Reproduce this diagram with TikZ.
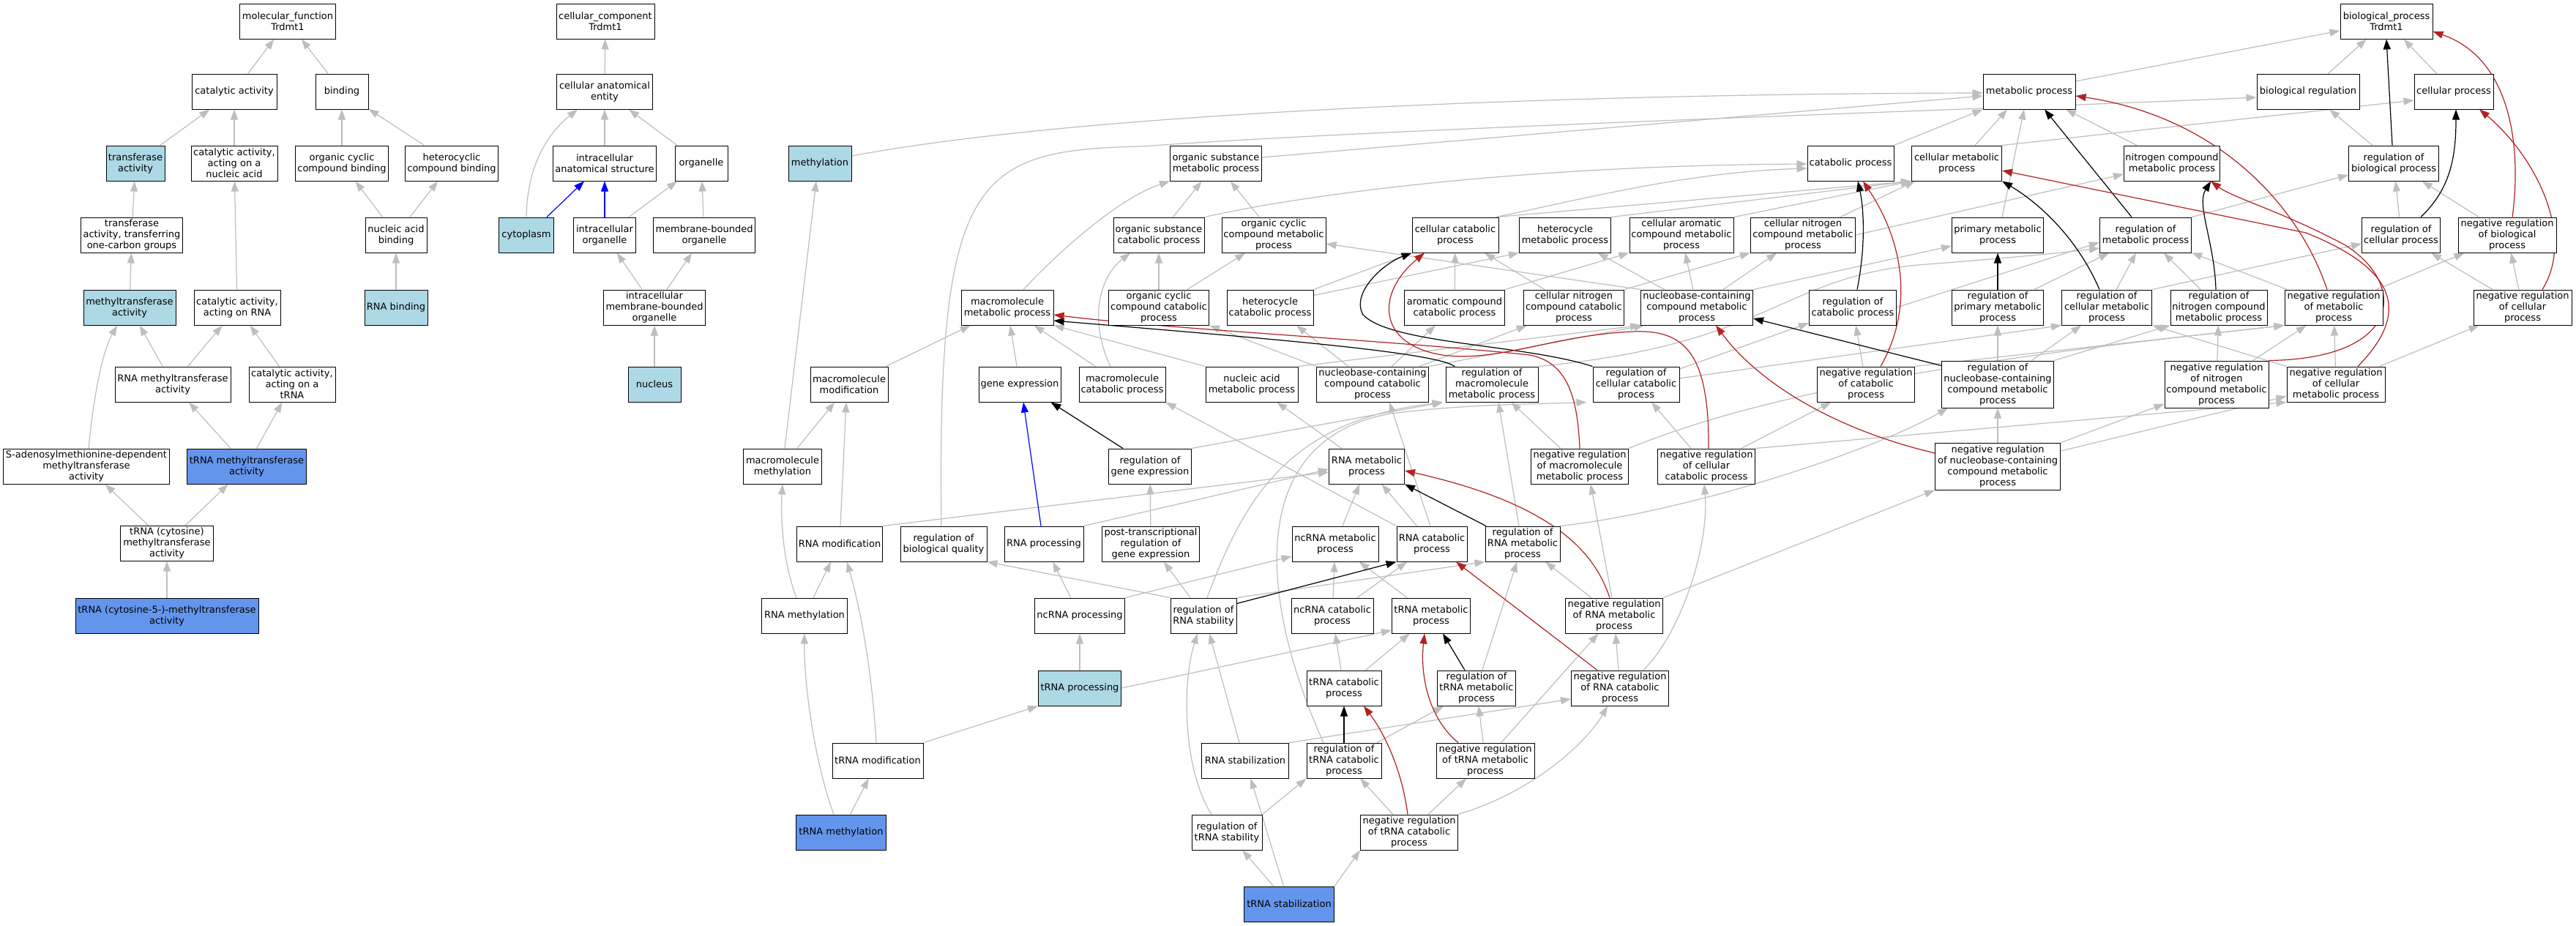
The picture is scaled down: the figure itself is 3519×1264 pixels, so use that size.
\documentclass[tikz,border=0pt]{standalone}
\usepackage{fontspec}
\setmainfont{DejaVu Sans}
\usetikzlibrary{arrows.meta}
\definecolor{lightblue}{HTML}{ADD8E6}
\definecolor{cornflower}{HTML}{6495ED}
\definecolor{edgegray}{HTML}{BEBEBE}
\definecolor{firebrick}{HTML}{B22222}
\pgfdeclarelayer{bg}
\pgfsetlayers{bg,main}
\tikzset{
  box/.style={draw=black,line width=1pt,fill=white,align=center,inner xsep=2pt,inner ysep=2pt,minimum height=48pt,font=\fontsize{13}{15}\selectfont},
  lb/.style={box,fill=lightblue},
  cb/.style={box,fill=cornflower},
  tall/.style={minimum height=64pt},
  ge/.style={color=edgegray,line width=1.2pt,-{Triangle[length=14pt,width=10pt]}},
  ke/.style={ge,color=black},
  re/.style={ge,color=firebrick},
  ue/.style={ge,color=blue},
}
\begin{document}
\begin{tikzpicture}[x=1pt,y=-1pt]
\useasboundingbox (0,0) rectangle (3519,1264);
% ---------------- molecular function
\node[box,minimum width=131pt] (mf) at (393,29) {molecular\_function\\Trdmt1};
\node[box,minimum width=116pt] (ca) at (320,125) {catalytic activity};
\node[box,minimum width=72pt] (bind) at (467,125) {binding};
\node[lb,minimum width=80pt] (ta) at (185,223) {transferase\\activity};
\node[box,minimum width=118pt] (cana) at (320,223) {catalytic activity,\\acting on a\\nucleic acid};
\node[box,minimum width=127pt] (ocb) at (467,223) {organic cyclic\\compound binding};
\node[box,minimum width=127pt] (hcb) at (617,223) {heterocyclic\\compound binding};
\node[box,minimum width=139pt] (taoc) at (180,321) {transferase\\activity, transferring\\one-carbon groups};
\node[box,minimum width=84pt] (nab) at (541,321) {nucleic acid\\binding};
\node[lb,minimum width=126pt] (mta) at (177,420) {methyltransferase\\activity};
\node[box,minimum width=118pt] (carna) at (324,420) {catalytic activity,\\acting on RNA};
\node[lb,minimum width=86pt] (rnab) at (541,420) {RNA binding};
\node[box,minimum width=158pt] (rmta) at (236,525) {RNA methyltransferase\\activity};
\node[box,minimum width=118pt] (catrna) at (399,525) {catalytic activity,\\acting on a\\tRNA};
\node[box,minimum width=227pt] (sam) at (118,637) {S-adenosylmethionine-dependent\\methyltransferase\\activity};
\node[cb,minimum width=163pt] (tmta) at (337,637) {tRNA methyltransferase\\activity};
\node[box,minimum width=127pt] (tcmta) at (228,742) {tRNA (cytosine)\\methyltransferase\\activity};
\node[cb,minimum width=250pt] (tc5) at (228,841) {tRNA (cytosine-5-)-methyltransferase\\activity};
% ---------------- cellular component
\node[box,minimum width=134pt] (cc) at (827,29) {cellular\_component\\Trdmt1};
\node[box,minimum width=131pt] (cae) at (826,125) {cellular anatomical\\entity};
\node[box,minimum width=141pt] (ias) at (826,223) {intracellular\\anatomical structure};
\node[box,minimum width=72pt] (org) at (958,223) {organelle};
\node[lb,minimum width=75pt] (cyto) at (719,321) {cytoplasm};
\node[box,minimum width=85pt] (io) at (826,321) {intracellular\\organelle};
\node[box,minimum width=139pt] (mbo) at (962,321) {membrane-bounded\\organelle};
\node[box,minimum width=139pt] (imbo) at (894,420) {intracellular\\membrane-bounded\\organelle};
\node[lb,minimum width=72pt] (nuc) at (894,525) {nucleus};
% ---------------- biological process
\node[box,minimum width=126pt] (bp) at (3260,29) {biological\_process\\Trdmt1};
\node[box,minimum width=126pt] (mp) at (2772,125) {metabolic process};
\node[box,minimum width=140pt] (breg) at (3153,125) {biological regulation};
\node[box,minimum width=108pt] (cp) at (3352,125) {cellular process};
\node[lb,minimum width=86pt] (meth) at (1120,223) {methylation};
\node[box,minimum width=125pt] (osmp) at (1661,223) {organic substance\\metabolic process};
\node[box,minimum width=118pt] (catp) at (2528,223) {catabolic process};
\node[box,minimum width=123pt] (cmp) at (2673,223) {cellular metabolic\\process};
\node[box,minimum width=131pt] (ncmp) at (2967,223) {nitrogen compound\\metabolic process};
\node[box,minimum width=123pt] (rbp) at (3270,223) {regulation of\\biological process};
\node[box,minimum width=124pt] (oscp) at (1583,321) {organic substance\\catabolic process};
\node[box,minimum width=142pt] (occmp) at (1740,321) {organic cyclic\\compound metabolic\\process};
\node[box,minimum width=118pt] (ccp) at (1988,321) {cellular catabolic\\process};
\node[box,minimum width=125pt] (hmp) at (2138,321) {heterocycle\\metabolic process};
\node[box,minimum width=142pt] (cacmp) at (2297,321) {cellular aromatic\\compound metabolic\\process};
\node[box,minimum width=143pt] (cncmp) at (2463,321) {cellular nitrogen\\compound metabolic\\process};
\node[box,minimum width=125pt] (pmp) at (2729,321) {primary metabolic\\process};
\node[box,minimum width=125pt] (rmp) at (2931,321) {regulation of\\metabolic process};
\node[box,minimum width=107pt] (rcp) at (3280,321) {regulation of\\cellular process};
\node[box,minimum width=134pt] (nrbp) at (3425,321) {negative regulation\\of biological\\process};
\node[box,minimum width=126pt] (mmp) at (1376,420) {macromolecule\\metabolic process};
\node[box,minimum width=137pt] (occp) at (1583,420) {organic cyclic\\compound catabolic\\process};
\node[box,minimum width=118pt] (hcp) at (1735,420) {heterocycle\\catabolic process};
\node[box,minimum width=137pt] (accp) at (1987,420) {aromatic compound\\catabolic process};
\node[box,minimum width=137pt] (cnccp) at (2150,420) {cellular nitrogen\\compound catabolic\\process};
\node[box,minimum width=153pt] (nbcmp) at (2318,420) {nucleobase-containing\\compound metabolic\\process};
\node[box,minimum width=119pt] (rcatp) at (2531,420) {regulation of\\catabolic process};
\node[box,minimum width=125pt] (rpmp) at (2729,420) {regulation of\\primary metabolic\\process};
\node[box,minimum width=123pt] (rcmp) at (2878,420) {regulation of\\cellular metabolic\\process};
\node[box,minimum width=132pt] (rncmp) at (3031,420) {regulation of\\nitrogen compound\\metabolic process};
\node[box,minimum width=134pt] (nrmp) at (3188,420) {negative regulation\\of metabolic\\process};
\node[box,minimum width=134pt] (nrcp) at (3446,420) {negative regulation\\of cellular\\process};
\node[box,minimum width=106pt] (mmod) at (1160,525) {macromolecule\\modification};
\node[box,minimum width=112pt] (gex) at (1393,525) {gene expression};
\node[box,minimum width=118pt] (mcp) at (1533,525) {macromolecule\\catabolic process};
\node[box,minimum width=126pt] (namp) at (1710,525) {nucleic acid\\metabolic process};
\node[box,minimum width=153pt] (nbccp) at (1875,525) {nucleobase-containing\\compound catabolic\\process};
\node[box,minimum width=126pt] (rmmp) at (2038,525) {regulation of\\macromolecule\\metabolic process};
\node[box,minimum width=118pt] (rccp) at (2235,525) {regulation of\\cellular catabolic\\process};
\node[box,minimum width=133pt] (nrcatp) at (2549,525) {negative regulation\\of catabolic\\process};
\node[box,tall,minimum width=153pt] (rnbcmp) at (2729,525) {regulation of\\nucleobase-containing\\compound metabolic\\process};
\node[box,tall,minimum width=142pt] (nrncmp) at (3028,525) {negative regulation\\of nitrogen\\compound metabolic\\process};
\node[box,minimum width=134pt] (nrcmp) at (3191,525) {negative regulation\\of cellular\\metabolic process};
\node[box,minimum width=107pt] (mmeth) at (1069,637) {macromolecule\\methylation};
\node[box,minimum width=113pt] (rgex) at (1571,637) {regulation of\\gene expression};
\node[box,minimum width=103pt] (rnamp) at (1867,637) {RNA metabolic\\process};
\node[box,minimum width=133pt] (nrmmp) at (2158,637) {negative regulation\\of macromolecule\\metabolic process};
\node[box,minimum width=133pt] (nrccp) at (2331,637) {negative regulation\\of cellular\\catabolic process};
\node[box,tall,minimum width=171pt] (nrnbcmp) at (2729,637) {negative regulation\\of nucleobase-containing\\compound metabolic\\process};
\node[box,minimum width=117pt] (rmod) at (1147,743) {RNA modification};
\node[box,minimum width=118pt] (rbq) at (1289,743) {regulation of\\biological quality};
\node[box,minimum width=108pt] (rproc) at (1426,743) {RNA processing};
\node[box,minimum width=133pt] (ptrgex) at (1572,743) {post-transcriptional\\regulation of\\gene expression};
\node[box,minimum width=118pt] (ncmet) at (1824,743) {ncRNA metabolic\\process};
\node[box,minimum width=96pt] (rcat) at (1956,743) {RNA catabolic\\process};
\node[box,minimum width=102pt] (rrmp) at (2080,743) {regulation of\\RNA metabolic\\process};
\node[box,minimum width=117pt] (rmeth) at (1099,841) {RNA methylation};
\node[box,minimum width=123pt] (ncproc) at (1475,841) {ncRNA processing};
\node[box,minimum width=90pt] (rrs) at (1644,841) {regulation of\\RNA stability};
\node[box,minimum width=112pt] (nccat) at (1820,841) {ncRNA catabolic\\process};
\node[box,minimum width=107pt] (tmet) at (1955,841) {tRNA metabolic\\process};
\node[box,minimum width=133pt] (nrrmp) at (2205,841) {negative regulation\\of RNA metabolic\\process};
\node[lb,minimum width=113pt] (tproc) at (1475,940) {tRNA processing};
\node[box,minimum width=102pt] (tcat) at (1836,940) {tRNA catabolic\\process};
\node[box,minimum width=107pt] (rtmp) at (2017,940) {regulation of\\tRNA metabolic\\process};
\node[box,minimum width=133pt] (nrrcp) at (2213,940) {negative regulation\\of RNA catabolic\\process};
\node[box,minimum width=124pt] (tmod) at (1199,1039) {tRNA modification};
\node[box,minimum width=119pt] (rstab) at (1701,1039) {RNA stabilization};
\node[box,minimum width=102pt] (rtcp) at (1836,1039) {regulation of\\tRNA catabolic\\process};
\node[box,minimum width=134pt] (nrtmp) at (2029,1039) {negative regulation\\of tRNA metabolic\\process};
\node[cb,minimum width=123pt] (tmeth) at (1149,1137) {tRNA methylation};
\node[box,minimum width=96pt] (rts) at (1676,1137) {regulation of\\tRNA stability};
\node[box,minimum width=133pt] (nrtcp) at (1925,1137) {negative regulation\\of tRNA catabolic\\process};
\node[cb,minimum width=123pt] (tstab) at (1761,1235) {tRNA stabilization};

\begin{pgfonlayer}{bg}
\fill[white] (0,0) rectangle (3519,1264);
% ---- MF edges
\draw[ge] (ca) -- (mf);
\draw[ge] (bind) -- (mf);
\draw[ge] (ta) -- (ca);
\draw[ge] (cana) -- (ca);
\draw[ge] (ocb) -- (bind);
\draw[ge] (hcb) -- (bind);
\draw[ge] (taoc) -- (ta);
\draw[ge] (carna) -- (cana);
\draw[ge] (nab) -- (ocb);
\draw[ge] (nab) -- (hcb);
\draw[ge] (mta) -- (taoc);
\draw[ge] (rnab) -- (nab);
\draw[ge] (rmta) -- (mta);
\draw[ge] (rmta) -- (carna);
\draw[ge] (catrna) -- (carna);
\draw[ge] ([xshift=3pt]sam.north) .. controls (128,540) and (140,480) .. ([xshift=-17pt]mta.south);
\draw[ge] (tmta) -- (rmta);
\draw[ge] (tmta) -- (catrna);
\draw[ge] (tcmta) -- (sam);
\draw[ge] (tcmta) -- (tmta);
\draw[ge] (tc5) -- (tcmta);
% ---- CC edges
\draw[ge] (cae) -- (cc);
\draw[ge] (ias) -- (cae);
\draw[ge] (org) -- (cae);
\draw[ge] (cyto.north) .. controls (720,230) and (745,185) .. ([xshift=-37pt]cae.south);
\draw[ue] ([xshift=28pt]cyto.north) -- ([xshift=-28pt]ias.south);
\draw[ue] (io) -- (ias);
\draw[ge] (io) -- (org);
\draw[ge] (mbo) -- (org);
\draw[ge] (imbo) -- (io);
\draw[ge] (imbo) -- (mbo);
\draw[ge] (nuc) -- (imbo);
% ---- BP gray edges
\draw[ge] ([yshift=14pt]mp.east) -- ([yshift=-13pt]bp.west);
\draw[ge] (breg) -- (bp);
\draw[ge] (cp) -- (bp);
\draw[ge] ([yshift=10pt]meth.east) .. controls (1500,150) and (2200,128) .. ([yshift=-2pt]mp.west);
\draw[ge] ([yshift=8pt]osmp.east) -- ([yshift=-6pt]mp.west);
\draw[ge] (catp.north east) -- (mp.south west);
\draw[ge] ([xshift=25pt]cmp.north) -- ([xshift=-30pt]mp.south);
\draw[ge] (cmp.north east) -- ([yshift=-12pt]cp.west);
\draw[ge] ([xshift=-48pt]ncmp.north) -- ([xshift=50pt]mp.south);
\draw[ge] (rbp) -- (breg);
\draw[ge] ([xshift=-3pt]rbq.north) .. controls (1280,240) and (1330,205) .. (1560,200) .. controls (1900,175) and (2700,150) .. ([yshift=-8pt]breg.west);
\draw[ge] (oscp) -- (osmp);
\draw[ge] (oscp.north east) .. controls (1800,262) and (2100,226) .. ([yshift=-1pt]catp.west);
\draw[ge] (occmp) -- (osmp);
\draw[ge] ([xshift=-4pt]ccp.north east) .. controls (2150,275) and (2300,235) .. ([yshift=-7pt]catp.west);
\draw[ge] ([xshift=-4pt]ccp.north east) -- (cmp.south west);
\draw[ge] (hmp.north east) -- (cmp.south west);
\draw[ge] (cacmp.north east) -- (cmp.south west);
\draw[ge] (cncmp) -- ([xshift=5pt]cmp.south west);
\draw[ge] (cncmp.east) -- ([yshift=-15pt]ncmp.west);
\draw[ge] ([xshift=6pt]pmp.north) -- ([xshift=-7pt]mp.south);
\draw[ge] (rmp.north east) -- ([yshift=-16pt]rbp.west);
\draw[ge] (rcp) -- (rbp);
\draw[ge] (nrbp) -- (rbp);
\draw[ge] ([xshift=22pt]mmp.north) .. controls (1450,340) and (1530,270) .. (osmp.south west);
\draw[ge] (occp) -- (oscp);
\draw[ge] (occp) -- (occmp);
\draw[ge] ([yshift=-8pt]hcp.north east) -- (hmp.south west);
\draw[ge] (hcp.north east) -- (ccp.south west);
\draw[ge] (accp) -- (ccp);
\draw[ge] (accp.north east) -- (cacmp.south west);
\draw[ge] (cnccp) -- (ccp);
\draw[ge] (cnccp.north east) -- (cncmp.south west);
\draw[ge] (nbcmp) -- (hmp);
\draw[ge] (nbcmp) -- (cacmp);
\draw[ge] (nbcmp) -- (cncmp);
\draw[ge] (nbcmp.north east) -- ([yshift=-15pt]pmp.west);
\draw[ge] (nbcmp.north west) -- ([yshift=-12pt]occmp.east);
\draw[ge] (rcatp.east) -- ([yshift=-10pt]rmp.west);
\draw[ge] (rpmp) -- (rmp);
\draw[ge] (rcmp) -- (rmp);
\draw[ge] (rcmp.north east) -- ([yshift=-12pt]rcp.west);
\draw[ge] (rncmp) -- (rmp);
\draw[ge] (nrmp) -- (rmp);
\draw[ge] (nrmp) -- (nrbp);
\draw[ge] (nrcp) -- (rcp);
\draw[ge] (nrcp) -- (nrbp);
\draw[ge] (mmod) -- (mmp);
\draw[ge] (gex) -- (mmp);
\draw[ge] ([xshift=-16pt]mcp.north) .. controls (1488,440) and (1500,380) .. ([xshift=-39pt]oscp.south);
\draw[ge] (mcp) -- (mmp);
\draw[ge] (namp.north west) -- (mmp.south east);
\draw[ge] (namp.north east) -- (nbcmp.south west);
\draw[ge] (nbccp.north west) -- (occp.south east);
\draw[ge] ([xshift=-33pt]nbccp.north) -- ([xshift=36pt]hcp.south);
\draw[ge] (nbccp) -- (accp);
\draw[ge] (nbccp) -- (cnccp);
\draw[ge] (nbccp.north east) -- ([xshift=5pt]nbcmp.south west);
\draw[ge] (rmmp.north east) .. controls (2420,470) and (2430,380) .. (2620,362) .. controls (2750,352) and (2820,345) .. ([yshift=-18pt]rmp.west);
\draw[ge] (rccp) -- (rcatp);
\draw[ge] (rccp) -- (rcmp.south west);
\draw[ge] (nrcatp) -- (rcatp);
\draw[ge] (nrcatp.north east) -- (nrmp.south west);
\draw[ge] (rnbcmp) -- (rpmp);
\draw[ge] (rnbcmp) -- (rcmp);
\draw[ge] (rnbcmp.north east) -- (rncmp.south west);
\draw[ge] (nrncmp) -- (rncmp);
\draw[ge] (nrncmp) -- (nrmp);
\draw[ge] (nrcmp.north west) -- (rcmp.south east);
\draw[ge] (nrcmp) -- (nrmp);
\draw[ge] (nrcmp) -- (nrcp);
\draw[ge] ([xshift=3pt]mmeth.north) -- ([xshift=-5pt]meth.south);
\draw[ge] (mmeth) -- (mmod);
\draw[ge] (rgex.north east) -- ([xshift=-3pt]rmmp.south west);
\draw[ge] (rnamp) -- (namp);
\draw[ge] (nrmmp) -- (rmmp);
\draw[ge] (nrmmp.north east) .. controls (2450,520) and (2800,480) .. (nrmp.south west);
\draw[ge] (nrccp) -- (rccp);
\draw[ge] (nrccp) -- (nrcatp);
\draw[ge] (nrccp.north east) -- (nrcmp.south west);
\draw[ge] (nrnbcmp) -- (rnbcmp);
\draw[ge] (nrnbcmp) -- (nrncmp);
\draw[ge] (nrnbcmp) -- (nrcmp);
\draw[ge] ([xshift=1pt]rmod.north) -- ([xshift=-4pt]mmod.south);
\draw[ge] (rmod.north east) -- ([yshift=-8pt]rnamp.west);
\draw[ge] (rproc.north east) -- ([yshift=-4pt]rnamp.west);
\draw[ge] (ptrgex) -- (rgex);
\draw[ge] (ncmet) -- (rnamp);
\draw[ge] (rcat) -- (rnamp);
\draw[ge] (rcat.north west) -- (mcp.south east);
\draw[ge] ([xshift=-2pt]rcat.north) -- ([xshift=23pt]nbccp.south);
\draw[ge] (rrmp.north east) .. controls (2300,700) and (2550,620) .. ([xshift=-68pt]rnbcmp.south);
\draw[ge] ([xshift=-5pt]rrmp.north) -- ([xshift=9pt]rmmp.south);
\draw[ge] ([xshift=-11pt]rmeth.north) .. controls (1070,770) and (1066,710) .. (mmeth.south);
\draw[ge] (rmeth) -- (rmod);
\draw[ge] (ncproc) -- (rproc);
\draw[ge] (ncproc.north east) -- ([yshift=-17pt]ncmet.west);
\draw[ge] (rrs.north west) -- (rbq.south east);
\draw[ge] (rrs) -- (ptrgex);
\draw[ge] (rrs.north east) -- (rrmp.south west);
\draw[ge] ([xshift=5pt]rrs.north) .. controls (1700,680) and (1760,575) .. ([xshift=-4pt]rmmp.south west);
\draw[ge] (nccat) -- (ncmet);
\draw[ge] (nccat) -- (rcat);
\draw[ge] (tmet) -- (ncmet);
\draw[ge] (nrrmp) -- (rrmp);
\draw[ge] ([xshift=-3pt]nrrmp.north) -- ([xshift=15pt]nrmmp.south);
\draw[ge] (nrrmp.north east) -- (nrnbcmp.south west);
\draw[ge] (tproc) -- (ncproc);
\draw[ge] (tproc.east) -- ([yshift=-20pt]tmet.west);
\draw[ge] (tcat) -- (nccat);
\draw[ge] (tcat) -- (tmet);
\draw[ge] (rtmp) -- (rrmp);
\draw[ge] (nrrcp) -- (nrrmp);
\draw[ge] ([xshift=32pt]nrrcp.north) .. controls (2300,860) and (2335,740) .. ([xshift=-3pt]nrccp.south);
\draw[ge] ([xshift=-2pt]tmod.north) .. controls (1190,900) and (1172,820) .. ([xshift=10pt]rmod.south);
\draw[ge] (tmod.north east) -- (tproc.south west);
\draw[ge] ([xshift=-8pt]rstab.north) -- ([xshift=8pt]rrs.south);
\draw[ge] (rstab.north east) -- ([yshift=-15pt]nrrcp.west);
\draw[ge] (rtcp) -- (rtmp);
\draw[ge] ([xshift=-28pt]rtcp.north) .. controls (1720,820) and (1700,600) .. (1900,565) .. controls (2000,552) and (2100,552) .. ([xshift=-8pt]rccp.south west);
\draw[ge] (nrtmp) -- (rtmp);
\draw[ge] (nrtmp) -- (nrrmp);
\draw[ge] ([xshift=-10pt]tmeth.north) .. controls (1112,1040) and (1098,930) .. (rmeth.south);
\draw[ge] (tmeth) -- (tmod);
\draw[ge] ([xshift=-21pt]rts.north) .. controls (1615,1050) and (1615,930) .. ([xshift=-8pt]rrs.south);
\draw[ge] (rts.north east) -- (rtcp.south west);
\draw[ge] (nrtcp) -- (rtcp);
\draw[ge] (nrtcp) -- (nrtmp);
\draw[ge] (nrtcp.north east) .. controls (2100,1080) and (2170,1010) .. ([xshift=-17pt]nrrcp.south);
\draw[ge] (tstab) -- (rts);
\draw[ge] (tstab) -- (rstab);
\draw[ge] (tstab.north east) -- (nrtcp.south west);
% ---- black (regulates)
\draw[ke] ([xshift=-2pt]rbp.north) -- (bp.south);
\draw[ke] ([xshift=27pt]rcp.north) .. controls (3345,260) and (3355,220) .. ([xshift=3pt]cp.south);
\draw[ke] ([xshift=-19pt]rmp.north) -- ([xshift=21pt]mp.south);
\draw[ke] ([xshift=-10pt]rcmp.north) .. controls (2840,330) and (2790,280) .. (cmp.south east);
\draw[ke] (rpmp) -- (pmp);
\draw[ke] ([xshift=-4pt]rncmp.north) .. controls (3025,330) and (3000,280) .. ([xshift=-13pt]ncmp.south east);
\draw[ke] ([yshift=-7pt]rnbcmp.north west) -- ([yshift=-15pt]nbcmp.east);
\draw[ke] ([xshift=6pt]rcatp.north) .. controls (2550,330) and (2545,280) .. ([xshift=10pt]catp.south);
\draw[ke] ([xshift=-51pt]rmmp.north) .. controls (1960,480) and (1700,460) .. ([yshift=-18pt]mmp.east);
\draw[ke] (rccp.north west) .. controls (2080,470) and (1900,470) .. (1862,430) .. controls (1845,400) and (1890,360) .. (ccp.south west);
\draw[ke] ([yshift=-8pt]rrs.north east) -- (rcat.south west);
\draw[ke] ([xshift=-50pt]rrmp.north) -- (rnamp.south east);
\draw[ke] ([xshift=-16pt]rtmp.north) -- ([xshift=16pt]tmet.south);
\draw[ke] (rtcp) -- (tcat);
\draw[ke] ([xshift=-37pt]rgex.north) -- ([xshift=-14pt]gex.south east);
% ---- blue (part of)
\draw[ue] ([xshift=-4pt]rproc.north) -- ([xshift=5pt]gex.south);
% ---- red (negatively regulates)
\draw[re] ([xshift=7pt]nrbp.north) .. controls (3445,200) and (3430,80) .. ([yshift=-14pt]bp.east);
\draw[re] ([xshift=27pt]nrcp.north) .. controls (3520,320) and (3460,210) .. ([xshift=35pt]cp.south);
\draw[re] ([xshift=-9pt]nrmp.north) .. controls (3140,280) and (3030,160) .. ([yshift=-6pt]mp.east);
\draw[re] ([xshift=30pt]nrcmp.north) .. controls (3290,430) and (3280,370) .. (3150,318) -- ([yshift=-10pt]cmp.east);
\draw[re] (nrncmp.north east) .. controls (3280,490) and (3290,390) .. (3204,335) .. controls (3120,290) and (3050,270) .. ([xshift=-13pt]ncmp.south east);
\draw[re] ([xshift=20pt]nrcatp.north) .. controls (2615,420) and (2600,330) .. ([xshift=17pt]catp.south);
\draw[re] ([yshift=18pt]nrnbcmp.west) .. controls (2500,585) and (2400,520) .. ([xshift=26pt]nbcmp.south);
\draw[re] ([xshift=3pt]nrccp.north) .. controls (2335,480) and (2300,450) .. (2230,453) .. controls (2120,458) and (2050,495) .. (1970,485) .. controls (1880,470) and (1880,400) .. ([xshift=-42pt]ccp.south);
\draw[re] (nrmmp.north) .. controls (2155,540) and (2140,495) .. (2090,485) .. controls (1900,465) and (1600,450) .. ([yshift=-10pt]mmp.east);
\draw[re] ([xshift=-6pt]nrrmp.north) .. controls (2180,760) and (2130,690) .. ([yshift=-6pt]rnamp.east);
\draw[re] ([xshift=-31pt]nrrcp.north) -- ([xshift=33pt]rcat.south);
\draw[re] ([xshift=-37pt]nrtmp.north) .. controls (1950,980) and (1940,920) .. ([xshift=-9pt]tmet.south);
\draw[re] ([xshift=-2pt]nrtcp.north) .. controls (1915,1050) and (1890,1000) .. ([xshift=27pt]tcat.south);
\end{pgfonlayer}
\end{tikzpicture}
\end{document}
